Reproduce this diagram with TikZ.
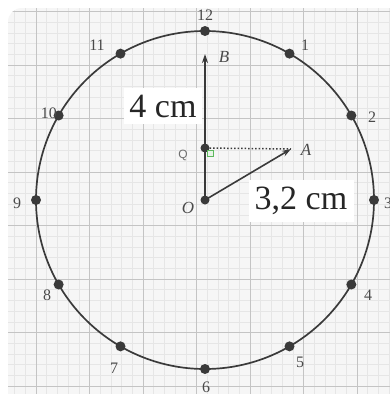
\documentclass[tikz,border=0pt]{standalone}
\usepackage{fontspec}
\setmainfont{Liberation Serif}
\setsansfont{Liberation Sans}
\usetikzlibrary{arrows.meta}
\definecolor{bgc}{HTML}{F6F6F6}
\definecolor{minorc}{HTML}{E6E6E6}
\definecolor{majorc}{HTML}{C4C4C4}
\definecolor{ink}{HTML}{3A3A3A}
\definecolor{lab}{HTML}{4A4A4A}
\definecolor{rgreen}{HTML}{5DB85D}
\begin{document}
\begin{tikzpicture}[x=1pt,y=-1pt,
  minorline/.style={draw=minorc,line width=0.5pt},
  majorline/.style={draw=majorc,line width=0.8pt},
  dot/.style={circle,fill=ink,inner sep=0pt,minimum size=10pt},
  hourlab/.style={text=lab,font=\fontsize{16}{16}\selectfont,inner sep=0pt},
  ptlab/.style={text=lab,font=\fontsize{17}{17}\selectfont\itshape,inner sep=0pt},
  vec/.style={draw=ink,line width=1.6pt,-{Stealth[length=9pt,width=6pt]}},
  boxlab/.style={fill=white,text=black!85,inner sep=0pt,font=\fontsize{34}{34}\selectfont}]
\useasboundingbox (0,0) rectangle (390,394);
\fill[white] (0,0) rectangle (390,394);
\fill[bgc,rounded corners=14pt] (8,8) rectangle (430,430);
\begin{scope}
\clip[rounded corners=14pt] (8,8) rectangle (430,430);
\foreach \i in {0,...,37} {
  \draw[minorline] ({3.9+10.7*\i},0) -- ({3.9+10.7*\i},400);
  \draw[minorline] (0,{0.8+10.7*\i}) -- (400,{0.8+10.7*\i});
}
\foreach \k in {0,...,7} {
  \draw[majorline] ({36+53.5*\k},0) -- ({36+53.5*\k},400);
  \draw[majorline] (0,{11.5+53.5*\k}) -- (400,{11.5+53.5*\k});
}
\end{scope}
% clock
\coordinate (O) at (205,200);
\draw[ink,line width=1.7pt] (O) circle (169pt);
\foreach \h in {1,...,12} {
  \node[dot] (h\h) at ({205+169*cos(90-30*\h)},{200-169*sin(90-30*\h)}) {};
}
\node[hourlab] (l12) at (205,15) {12};
\node[hourlab] (l1) at (305,45) {1};
\node[hourlab] (l2) at (372,117) {2};
\node[hourlab] (l3) at (388,203) {3};
\node[hourlab] (l4) at (368,295) {4};
\node[hourlab] (l5) at (300,362) {5};
\node[hourlab] (l6) at (206,387) {6};
\node[hourlab] (l7) at (114,368) {7};
\node[hourlab] (l8) at (47,295) {8};
\node[hourlab] (l9) at (17,203) {9};
\node[hourlab] (l10) at (49,113) {10};
\node[hourlab] (l11) at (97,45) {11};
% vectors
\coordinate (B) at (205,54);
\coordinate (A) at (291,149);
\node[dot,minimum size=9pt] (Q) at (205,148) {};
\draw[rgreen,line width=0.9pt,fill=rgreen!15] (207,150) rectangle (213,156);
\draw[ink,line width=1.5pt,dotted] (Q) -- (A);
\draw[vec] (O) -- (B);
\draw[vec] (O) -- (A);
\node[dot,minimum size=9pt] (Od) at (O) {};
\node[ptlab] (Bl) at (224,57) {B};
\node[ptlab] (Al) at (306,150) {A};
\node[ptlab] (Ol) at (188,208) {O};
\node[text=lab!80,font=\sffamily\fontsize{12}{12}\selectfont,inner sep=0pt] (Ql) at (183,155) {Q};
% length labels
\node[boxlab,minimum width=78pt,minimum height=36pt] (L4) at (163,106) {4 cm};
\node[boxlab,minimum width=105pt,minimum height=42pt] (L32) at (301,201) {3,2 cm};
\end{tikzpicture}
\end{document}
